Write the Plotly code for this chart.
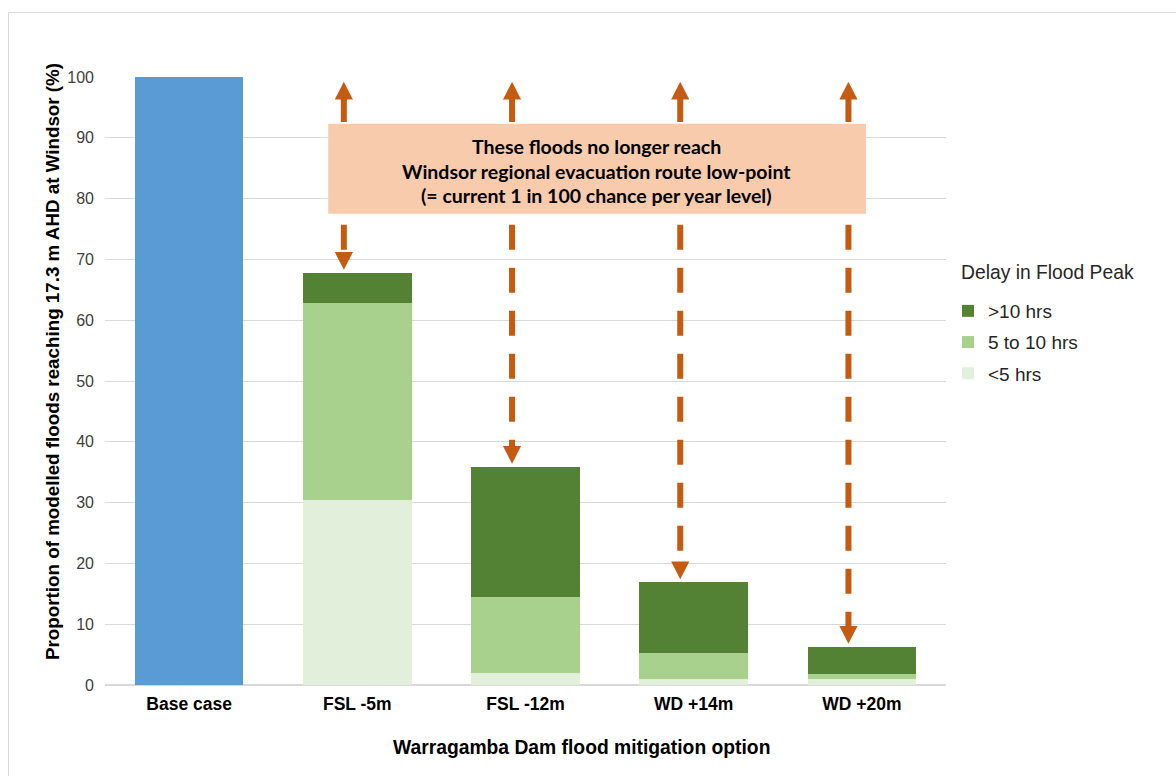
import plotly.graph_objects as go

# ---- data -----------------------------------------------------------------
categories = ["Base case", "FSL -5m", "FSL -12m", "WD +14m", "WD +20m"]
base_case = [100, None, None, None, None]
under_5_hrs = [None, 30.4, 2.0, 1.0, 1.0]
from_5_to_10_hrs = [None, 32.4, 12.5, 4.3, 0.8]
over_10_hrs = [None, 5.0, 21.4, 11.6, 4.5]
y_ticks = list(range(0, 101, 10))

box_lines = [
    "These floods no longer reach",
    "Windsor regional evacuation route low-point",
    "(= current 1 in 100 chance per year level)",
]

# ---- geometry -------------------------------------------------------------
W, H = 1176, 776
M_L, M_R, M_T, M_B = 105, 230, 77, 91
PLOT_W = W - M_L - M_R
PLOT_H = H - M_T - M_B


def px_x(px):
    return (px - M_L) / PLOT_W


def px_y(py):
    return (H - M_B - py) / PLOT_H


ARROW = "#C55A11"
DARK, MID, LIGHT = "#548235", "#A9D18E", "#E2EFDA"
BLUE = "#5B9BD5"
GRID = "#D9D9D9"
FONT = "Liberation Sans, Arial, sans-serif"

xs = list(range(len(categories)))
bar_w = 0.645

fig = go.Figure()
fig.add_trace(go.Bar(x=xs, y=base_case, width=bar_w, marker_color=BLUE,
                     name="Base case", showlegend=False))
fig.add_trace(go.Bar(x=xs, y=under_5_hrs, width=bar_w, marker_color=LIGHT,
                     name="<5 hrs", legendgroup="c", legendrank=3))
fig.add_trace(go.Bar(x=xs, y=from_5_to_10_hrs, width=bar_w, marker_color=MID,
                     name="5 to 10 hrs", legendgroup="b", legendrank=2))
fig.add_trace(go.Bar(x=xs, y=over_10_hrs, width=bar_w, marker_color=DARK,
                     name=">10 hrs", legendgroup="a", legendrank=1))
for tr in fig.data:
    tr.marker.line.width = 0

shapes = []
annotations = []

# outer frame
shapes.append(dict(type="rect", xref="paper", yref="paper",
                   x0=px_x(8.5), x1=px_x(1190), y0=px_y(12.5), y1=px_y(790),
                   line=dict(color=GRID, width=1), fillcolor="rgba(0,0,0,0)",
                   layer="below"))

# callout box
shapes.append(dict(type="rect", xref="x", yref="y",
                   x0=0.827, x1=4.024, y0=77.5, y1=92.3,
                   fillcolor="#F8CBAD", line=dict(width=0)))
for text, yv in zip(box_lines, [88.65, 84.54, 80.43]):
    annotations.append(dict(x=2.425, y=yv, xref="x", yref="y", text=f"<b>{text}</b>",
                            showarrow=False,
                            font=dict(family="Lato, Carlito, sans-serif", size=19.5,
                                      color="#000000")))

# double-headed arrows: up to the 100% line, dashed down to each stacked total
head_half = 0.054
head_h = 2.9
totals = [None] + [a + b + c for a, b, c in zip(under_5_hrs[1:], from_5_to_10_hrs[1:],
                                                over_10_hrs[1:])]
for i in range(1, len(categories)):
    x = i - 0.08
    up_tip = 99.2
    shapes.append(dict(type="line", xref="x", yref="y", x0=x, x1=x,
                       y0=92.6, y1=up_tip - head_h + 0.2,
                       line=dict(color=ARROW, width=6)))
    shapes.append(dict(type="path", xref="x", yref="y",
                       path=f"M {x - head_half},{up_tip - head_h} L {x + head_half},{up_tip - head_h} L {x},{up_tip} Z",
                       fillcolor=ARROW, line=dict(width=0)))
    down_tip = totals[i] + 0.5
    shapes.append(dict(type="line", xref="x", yref="y", x0=x, x1=x,
                       y0=75.7, y1=down_tip + head_h - 0.1,
                       line=dict(color=ARROW, width=6, dash="25px,18px")))
    shapes.append(dict(type="path", xref="x", yref="y",
                       path=f"M {x - head_half},{down_tip + head_h} L {x + head_half},{down_tip + head_h} L {x},{down_tip} Z",
                       fillcolor=ARROW, line=dict(width=0)))

# axis titles
annotations.append(dict(x=px_x(52), y=px_y(362), xref="paper", yref="paper",
                        xanchor="center", yanchor="middle",
                        text="<b>Proportion of modelled floods reaching 17.3 m AHD at Windsor (%)</b>",
                        textangle=-90, showarrow=False,
                        font=dict(family=FONT, size=18.8, color="#000000")))
annotations.append(dict(x=px_x(581), y=px_y(747), xref="paper", yref="paper",
                        xanchor="center", yanchor="middle",
                        text="<b>Warragamba Dam flood mitigation option</b>",
                        showarrow=False,
                        font=dict(family=FONT, size=19.3, color="#000000")))

# legend heading
annotations.append(dict(x=px_x(959), y=px_y(272), xref="paper", yref="paper",
                        xanchor="left", yanchor="middle",
                        text="Delay in Flood Peak", showarrow=False,
                        font=dict(family=FONT, size=19.3, color="#262626")))

fig.update_layout(
    width=W, height=H,
    margin=dict(l=M_L, r=M_R, t=M_T, b=M_B, pad=0),
    barmode="stack",
    plot_bgcolor="white", paper_bgcolor="white",
    font=dict(family=FONT, color="#404040"),
    shapes=shapes,
    annotations=annotations,
    legend=dict(
        traceorder="grouped",
        tracegroupgap=3.5,
        x=px_x(948), y=px_y(292), xanchor="left", yanchor="top",
        font=dict(size=19, color="#262626"),
        itemwidth=30,
        bgcolor="rgba(0,0,0,0)",
    ),
    xaxis=dict(
        tickmode="array", tickvals=xs, ticktext=[f"<b>{c}</b>" for c in categories],
        range=[-0.5, len(categories) - 0.5],
        showgrid=False, zeroline=False, showline=False, ticks="",
        tickfont=dict(size=17.5, color="#000000"),
        ticklabelstandoff=6,
    ),
    yaxis=dict(
        range=[0, 100], tickvals=y_ticks,
        showgrid=True, gridcolor=GRID, gridwidth=1,
        zeroline=True, zerolinecolor=GRID, zerolinewidth=1.5,
        showline=False, ticks="",
        tickfont=dict(size=16, color="#404040"),
        ticklabelstandoff=10,
    ),
)

fig.write_html("out.html")
